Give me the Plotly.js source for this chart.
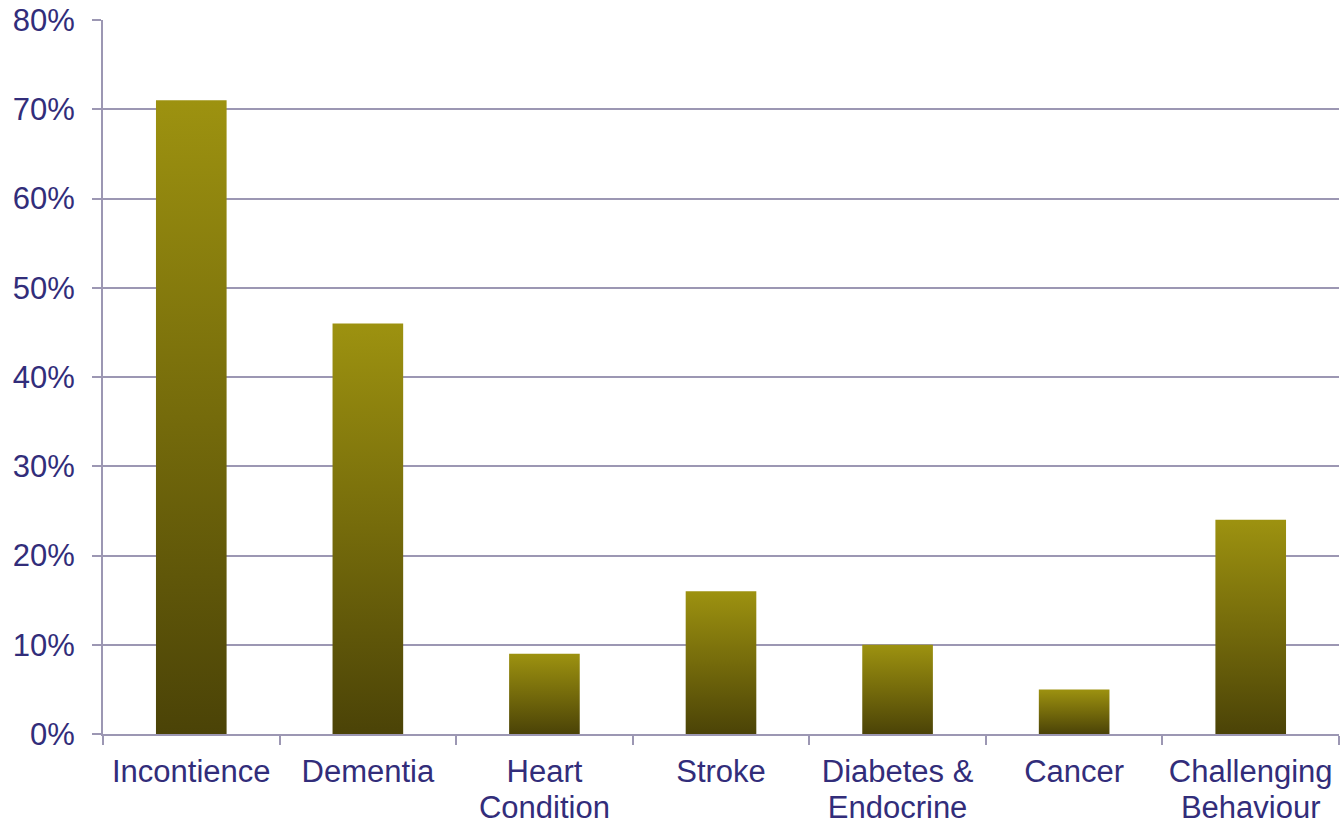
<!DOCTYPE html>
<html>
<head>
<meta charset="utf-8">
<script src="https://cdn.plot.ly/plotly-3.0.1.min.js"></script>
<style>
  html, body { margin: 0; padding: 0; background: #ffffff; }
  #chart { width: 1340px; height: 825px; }
</style>
</head>
<body>
<div id="chart"></div>
<script>
// Share of residents with each condition
const categories = [
  "Incontience",
  "Dementia",
  "Heart<br>Condition",
  "Stroke",
  "Diabetes &amp;<br>Endocrine",
  "Cancer",
  "Challenging<br>Behaviour"
];
const shares = [0.71, 0.46, 0.09, 0.16, 0.10, 0.05, 0.24];
const yTickValues = [0, 0.1, 0.2, 0.3, 0.4, 0.5, 0.6, 0.7, 0.8];

const textColor = "#322d7a";
const lineColor = "#9c97b3";

const trace = {
  type: "bar",
  x: categories,
  y: shares,
  marker: { color: "#756b0c", line: { width: 0 } },
  hoverinfo: "skip"
};

const layout = {
  width: 1340,
  height: 825,
  margin: { l: 103, r: 1, t: 20, b: 91, pad: 0 },
  paper_bgcolor: "#ffffff",
  plot_bgcolor: "#ffffff",
  bargap: 0.6,
  showlegend: false,
  font: { family: "Liberation Sans, Arial, sans-serif", size: 31, color: textColor },
  xaxis: {
    type: "category",
    showgrid: false,
    showline: true,
    linecolor: lineColor,
    linewidth: 2,
    ticks: "outside",
    tickson: "boundaries",
    ticklen: 9,
    tickwidth: 2,
    tickcolor: lineColor,
    ticklabelstandoff: 9,
    tickfont: { size: 31, color: textColor },
    fixedrange: true
  },
  yaxis: {
    range: [0, 0.8],
    tickvals: yTickValues,
    tickformat: ".0%",
    showgrid: true,
    gridcolor: lineColor,
    gridwidth: 2,
    showline: true,
    linecolor: lineColor,
    linewidth: 2,
    ticks: "outside",
    ticklen: 9,
    tickwidth: 2,
    tickcolor: lineColor,
    ticklabelstandoff: 11,
    zeroline: false,
    tickfont: { size: 31, color: textColor },
    fixedrange: true
  }
};

// Vertical olive gradient applied to each bar
function applyGradient(gd) {
  const svgNS = "http://www.w3.org/2000/svg";
  const svg = gd.querySelector("svg.main-svg");
  if (!svg) return;
  let defs = svg.querySelector("defs#bar-defs");
  if (!defs) {
    defs = document.createElementNS(svgNS, "defs");
    defs.setAttribute("id", "bar-defs");
    const grad = document.createElementNS(svgNS, "linearGradient");
    grad.setAttribute("id", "oliveFade");
    grad.setAttribute("x1", "0");
    grad.setAttribute("y1", "0");
    grad.setAttribute("x2", "0");
    grad.setAttribute("y2", "1");
    const stops = [["0", "#9d9210"], ["0.5", "#756b0b"], ["1", "#4b4307"]];
    stops.forEach(([off, col]) => {
      const s = document.createElementNS(svgNS, "stop");
      s.setAttribute("offset", off);
      s.setAttribute("stop-color", col);
      grad.appendChild(s);
    });
    defs.appendChild(grad);
    svg.insertBefore(defs, svg.firstChild);
  }
  gd.querySelectorAll(".bars .point path").forEach(p => {
    p.style.fill = "url(#oliveFade)";
    p.style.fillOpacity = "1";
  });
}

// Tighter spacing between the two lines of the category labels
function tightenLabelLines(gd) {
  gd.querySelectorAll(".xtick text tspan.line").forEach((t, i) => {
    if (t.getAttribute("dy") && t.getAttribute("dy") !== "0em") {
      t.setAttribute("dy", "1.16em");
    }
  });
}

const gd = document.getElementById("chart");
Plotly.newPlot(gd, [trace], layout, { displayModeBar: false, staticPlot: true })
  .then(() => { applyGradient(gd); tightenLabelLines(gd); });
</script>
</body>
</html>
